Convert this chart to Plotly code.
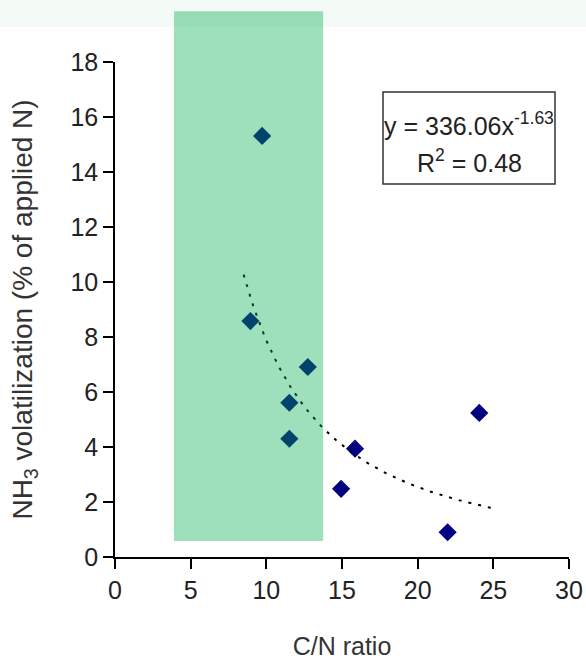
import numpy as np
import plotly.graph_objects as go

# Data
cn_ratio = [9.72, 8.95, 12.74, 11.52, 11.52, 15.86, 14.94, 24.07, 21.98]
nh3_volatilization = [15.31, 8.58, 6.91, 5.61, 4.30, 3.94, 2.48, 5.24, 0.90]

# Power fit shown in the chart: y = a * x^b
fit_a = 336.06
fit_b = -1.63
fit_x_range = [8.5, 25.0]

# Highlighted C/N band (data units)
band_x = [3.9, 13.75]
band_y = [0.58, 19.85]

x_range = [0, 30]
y_range = [0, 18]
x_ticks = [0, 5, 10, 15, 20, 25, 30]
y_ticks = [0, 2, 4, 6, 8, 10, 12, 14, 16, 18]

FONT = "Liberation Sans, Arial, sans-serif"

W, H = 586, 660
ML, MR, MT, MB = 115, 17, 62, 103
PW = W - ML - MR
PH = H - MT - MB

def px_to_paper_x(px):
    return (px - ML) / PW

def px_to_paper_y(py):
    return (H - MB - py) / PH

fit_x = np.linspace(fit_x_range[0], fit_x_range[1], 120)
fit_y = fit_a * fit_x ** fit_b

fig = go.Figure()

fig.add_trace(go.Scatter(
    x=cn_ratio, y=nh3_volatilization, mode="markers",
    marker=dict(symbol="diamond", size=14, color="#000080"),
    showlegend=False, cliponaxis=False,
))
fig.add_trace(go.Scatter(
    x=fit_x, y=fit_y, mode="lines",
    line=dict(color="black", width=2, dash="3px,7px"),
    showlegend=False,
))

shapes = []
# light band across the top of the page
shapes.append(dict(type="rect", xref="paper", yref="paper",
                   x0=px_to_paper_x(0), x1=px_to_paper_x(W),
                   y0=px_to_paper_y(27), y1=px_to_paper_y(0),
                   fillcolor="rgb(244,250,245)", line=dict(width=0), layer="below"))
# green highlight band (semi-transparent, drawn above the markers)
shapes.append(dict(type="rect", xref="x", yref="paper",
                   x0=band_x[0], x1=band_x[1],
                   y0=band_y[0] / y_range[1], y1=band_y[1] / y_range[1],
                   fillcolor="rgb(0,174,78)", opacity=0.384,
                   line=dict(width=0), layer="above"))
# equation box
shapes.append(dict(type="rect", xref="paper", yref="paper",
                   x0=px_to_paper_x(383), x1=px_to_paper_x(555),
                   y0=px_to_paper_y(184), y1=px_to_paper_y(92),
                   line=dict(color="#333333", width=1.5), fillcolor="rgba(0,0,0,0)",
                   layer="above"))

annotations = [
    dict(xref="paper", yref="paper", x=px_to_paper_x(469), y=px_to_paper_y(124),
         text="y = 336.06x<sup>-1.63</sup>", showarrow=False,
         font=dict(family=FONT, size=25, color="#222222"),
         xanchor="center", yanchor="middle"),
    dict(xref="paper", yref="paper", x=px_to_paper_x(469), y=px_to_paper_y(161),
         text="R<sup>2</sup> = 0.48", showarrow=False,
         font=dict(family=FONT, size=25, color="#222222"),
         xanchor="center", yanchor="middle"),
]

fig.update_layout(
    width=W, height=H, autosize=False,
    margin=dict(l=ML, r=MR, t=MT, b=MB, pad=0, autoexpand=False),
    paper_bgcolor="white", plot_bgcolor="white",
    shapes=shapes, annotations=annotations,
    font=dict(family=FONT, size=25, color="#222222"),
)
fig.update_xaxes(
    range=x_range, tickvals=x_ticks, ticktext=[str(v) for v in x_ticks],
    showgrid=False, zeroline=False, showline=True, linecolor="black", linewidth=1.5,
    ticks="outside", ticklen=10, tickwidth=1.5, tickcolor="black",
    tickfont=dict(family=FONT, size=25, color="#222222"), automargin=False,
    title=dict(text="C/N ratio", font=dict(family=FONT, size=25, color="#333333"), standoff=38),
)
fig.update_yaxes(
    range=y_range, tickvals=y_ticks, ticktext=[str(v) for v in y_ticks],
    showgrid=False, zeroline=False, showline=True, linecolor="black", linewidth=1.5,
    ticks="outside", ticklen=10, tickwidth=1.5, tickcolor="black",
    tickfont=dict(family=FONT, size=25, color="#222222"), automargin=False,
    title=dict(text="NH<sub>3</sub> volatilization (% of applied N)",
               font=dict(family=FONT, size=28, color="#333333"), standoff=30),
)

fig.write_html("out.html", config={"displayModeBar": False},
               post_script="document.body.style.margin='0';document.body.style.overflow='hidden';")
